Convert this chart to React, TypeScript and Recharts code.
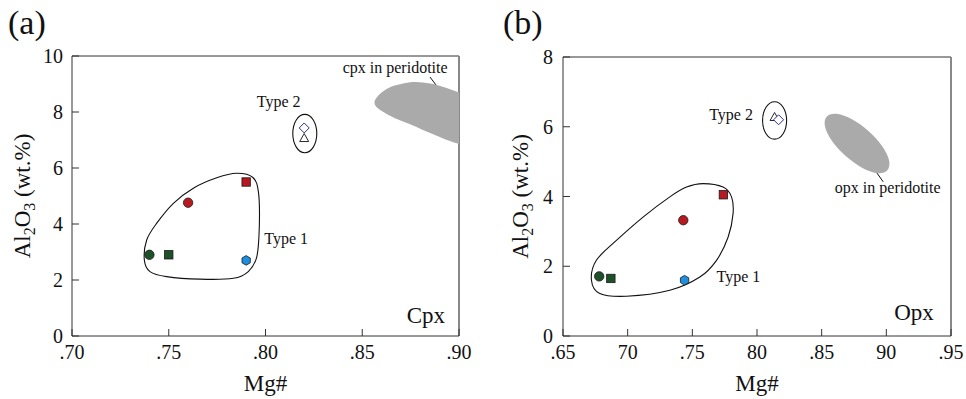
import React from 'react';
import { ScatterChart, Scatter, XAxis, YAxis, ReferenceLine } from 'recharts';

const FONT = '"Liberation Serif", "Times New Roman", Times, serif';

// samples, same order in both panels (triangle before diamond so the diamond sits on top)
const SAMPLES = ['greenCircle', 'greenSquare', 'redCircle', 'redSquare', 'blueHex', 'triangle', 'diamond'];

// (a) Cpx
const CPX_X_TICKS = [0.7, 0.75, 0.8, 0.85, 0.9];
const CPX_X_LABELS = ['.70', '.75', '.80', '.85', '.90'];
const CPX_Y_TICKS = [0, 2, 4, 6, 8, 10];
const CPX_MG = [0.74, 0.75, 0.76, 0.79, 0.79, 0.82, 0.82];
const CPX_AL = [2.9, 2.9, 4.76, 5.5, 2.7, 7.07, 7.43];
const CPX_TYPE1: [number, number][] = [
  [0.7851, 5.81], [0.7935, 5.66], [0.7964, 5.11], [0.7968, 3.9], [0.7955, 2.83], [0.7911, 2.3],
  [0.7834, 2.06], [0.7662, 2.03], [0.7489, 2.12], [0.7403, 2.3], [0.7374, 2.71], [0.7386, 3.43],
  [0.7438, 4.03], [0.7524, 4.74], [0.7627, 5.28], [0.7748, 5.65],
];
const CPX_TYPE2: [number, number][] = [
  [0.8203, 7.915], [0.8247, 7.714], [0.8265, 7.23], [0.8247, 6.746],
  [0.8203, 6.545], [0.8159, 6.746], [0.8141, 7.23], [0.8159, 7.714],
];
const CPX_FIELD: [number, number][] = [
  [0.8563, 8.33], [0.8626, 8.82], [0.8747, 9.06], [0.885, 9.02], [0.8936, 8.86], [0.9016, 8.64],
  [0.9083, 8.29], [0.9083, 7.0], [0.9005, 6.86], [0.8885, 7.15], [0.8747, 7.56], [0.8626, 7.93],
];
const CPX_LEADER: [number, number][] = [[0.885, 9.25], [0.8917, 8.64]];
const CPX_NOTES = [
  { mg: 0.7955, al: 8.19, text: 'Type 2' },
  { mg: 0.7994, al: 3.27, text: 'Type 1' },
  { mg: 0.8399, al: 9.38, text: 'cpx in peridotite' },
];
const CPX_CORNER = [{ mg: 0.873, al: 0.46, text: 'Cpx' }];

// (b) Opx
const OPX_X_TICKS = [0.65, 0.7, 0.75, 0.8, 0.85, 0.9, 0.95];
const OPX_X_LABELS = ['.65', '70', '.75', '80', '.85', '90', '.95'];
const OPX_Y_TICKS = [0, 2, 4, 6, 8];
const OPX_MG = [0.678, 0.687, 0.743, 0.774, 0.744, 0.8136, 0.8167];
const OPX_AL = [1.71, 1.65, 3.32, 4.05, 1.6, 6.28, 6.2];
const OPX_TYPE1: [number, number][] = [
  [0.7583, 4.37], [0.7738, 4.27], [0.7803, 3.99], [0.7815, 3.51], [0.7777, 2.84], [0.7687, 2.17],
  [0.7558, 1.69], [0.7326, 1.31], [0.6991, 1.14], [0.6784, 1.22], [0.672, 1.6], [0.6758, 2.17],
  [0.6913, 2.74], [0.7119, 3.41], [0.7326, 3.99], [0.7455, 4.27],
];
const OPX_TYPE2: [number, number][] = [
  [0.8136, 6.716], [0.8202, 6.559], [0.8229, 6.18], [0.8202, 5.801],
  [0.8136, 5.644], [0.807, 5.801], [0.8043, 6.18], [0.807, 6.559],
];
const OPX_FIELD: [number, number][] = [
  [0.9008, 4.75], [0.8933, 4.67], [0.8815, 4.82], [0.8686, 5.16], [0.858, 5.59], [0.8526, 6.0],
  [0.8538, 6.29], [0.8613, 6.37], [0.8731, 6.22], [0.8861, 5.88], [0.8967, 5.45], [0.9021, 5.04],
];
const OPX_LEADER: [number, number][] = [[0.8886, 4.89], [0.8976, 4.42]];
const OPX_NOTES = [
  { mg: 0.763, al: 6.2, text: 'Type 2' },
  { mg: 0.7687, al: 1.55, text: 'Type 1' },
  { mg: 0.8602, al: 4.1, text: 'opx in peridotite' },
];
const OPX_CORNER = [{ mg: 0.9061, al: 0.45, text: 'Opx' }];

const GREEN = '#1d5128';
const RED = '#b81820';
const BLUE = '#1e8fe0';

const toRows = (pairs: [number, number][]) => pairs.map(([mg, al]) => ({ mg, al }));

// closed catmull-rom through the pixel points the scatter hands us
function closedPath(pts: { x: number; y: number }[]) {
  const n = pts.length;
  let d = `M${pts[0].x},${pts[0].y}`;
  for (let i = 0; i < n; i++) {
    const p0 = pts[(i - 1 + n) % n];
    const p1 = pts[i];
    const p2 = pts[(i + 1) % n];
    const p3 = pts[(i + 2) % n];
    d += `C${p1.x + (p2.x - p0.x) / 6},${p1.y + (p2.y - p0.y) / 6} ${p2.x - (p3.x - p1.x) / 6},${p2.y - (p3.y - p1.y) / 6} ${p2.x},${p2.y}`;
  }
  return d + 'Z';
}

const outline = (stroke: string, fill: string) => (p: any) =>
  <path d={closedPath(p.points)} stroke={stroke} fill={fill} strokeWidth={1.1} />;

const noDot = () => <g />;

function Marker(props: any) {
  const { cx, cy, payload } = props;
  const s = { stroke: '#1a1a1a', strokeWidth: 0.8 };
  switch (payload.sample) {
    case 'greenCircle':
      return <circle cx={cx} cy={cy} r={4.7} fill={GREEN} {...s} />;
    case 'greenSquare':
      return <rect x={cx - 4.2} y={cy - 4.2} width={8.4} height={8.4} fill={GREEN} {...s} />;
    case 'redCircle':
      return <circle cx={cx} cy={cy} r={4.7} fill={RED} {...s} />;
    case 'redSquare':
      return <rect x={cx - 4.2} y={cy - 4.2} width={8.4} height={8.4} fill={RED} {...s} />;
    case 'blueHex': {
      const r = 4.8;
      const pts = [0, 1, 2, 3, 4, 5]
        .map((k) => {
          const a = (Math.PI / 3) * k + Math.PI / 6;
          return `${cx + r * Math.cos(a)},${cy + r * Math.sin(a)}`;
        })
        .join(' ');
      return <polygon points={pts} fill={BLUE} {...s} />;
    }
    case 'triangle':
      return (
        <polygon
          points={`${cx},${cy - 4.5} ${cx + 4.5},${cy + 3.5} ${cx - 4.5},${cy + 3.5}`}
          fill="#fff"
          stroke="#111"
          strokeWidth={0.9}
        />
      );
    default:
      return (
        <polygon
          points={`${cx},${cy - 5} ${cx + 5},${cy} ${cx},${cy + 5} ${cx - 5},${cy}`}
          fill="#fff"
          stroke="#2b2b9e"
          strokeWidth={1}
        />
      );
  }
}

const noteShape = (size: number) => (p: any) =>
  (
    <text x={p.cx} y={p.cy} fontFamily={FONT} fontSize={size} fill="#111">
      {p.payload.text}
    </text>
  );

interface PanelProps {
  width: number;
  margin: { top: number; right: number; bottom: number; left: number };
  xDomain: [number, number];
  xTicks: number[];
  xLabels: string[];
  yTicks: number[];
  yTickMargin: number;
  yLabelX: number;
  mg: number[];
  al: number[];
  type1: [number, number][];
  type2: [number, number][];
  field: [number, number][];
  leader: [number, number][];
  notes: { mg: number; al: number; text: string }[];
  corner: { mg: number; al: number; text: string }[];
}

function Panel(props: PanelProps) {
  const { width, margin, xDomain, xTicks, xLabels, yTicks } = props;
  const points = SAMPLES.map((sample, i) => ({ sample, mg: props.mg[i], al: props.al[i] }));
  const yMax = yTicks[yTicks.length - 1];
  const axisStyle = { fill: '#111', fontSize: 20, fontFamily: FONT };

  return (
    <ScatterChart width={width} height={399} margin={margin}>
      <XAxis
        type="number"
        dataKey="mg"
        domain={xDomain}
        ticks={xTicks}
        interval={0}
        allowDataOverflow
        tickFormatter={(v: number) => xLabels[xTicks.indexOf(v)] ?? ''}
        tick={axisStyle}
        tickSize={-7}
        tickMargin={16}
        height={30}
        stroke="#333"
        label={(lp: any) => {
          const vb = lp.viewBox;
          return (
            <text x={vb.x + vb.width / 2} y={391} textAnchor="middle" fontFamily={FONT} fontSize={23} fill="#111">
              Mg#
            </text>
          );
        }}
      />
      <YAxis
        type="number"
        dataKey="al"
        domain={[0, yMax]}
        ticks={yTicks}
        interval={0}
        tick={axisStyle}
        tickSize={-7}
        tickMargin={props.yTickMargin}
        width={40}
        stroke="#333"
        label={(lp: any) => {
          const vb = lp.viewBox;
          const cy = vb.y + vb.height / 2;
          const x = props.yLabelX;
          return (
            <text
              x={x}
              y={cy}
              transform={`rotate(-90, ${x}, ${cy})`}
              textAnchor="middle"
              fontFamily={FONT}
              fontSize={23}
              fill="#111"
            >
              Al
              <tspan fontSize={16} dy={5}>2</tspan>
              <tspan dy={-5}>O</tspan>
              <tspan fontSize={16} dy={5}>3</tspan>
              <tspan dy={-5}> (wt.%)</tspan>
            </text>
          );
        }}
      />
      <ReferenceLine y={yMax} stroke="#333" strokeWidth={1} />
      <ReferenceLine x={xDomain[1]} stroke="#888" strokeWidth={2} />

      <Scatter
        data={toRows(props.field)}
        shape={noDot}
        line={outline('none', '#aaaaaa')}
        lineType="joint"
        isAnimationActive={false}
      />
      <ReferenceLine
        segment={props.leader.map(([x, y]) => ({ x, y }))}
        stroke="#111"
        strokeWidth={1}
        ifOverflow="visible"
      />
      <Scatter
        data={toRows(props.type1)}
        shape={noDot}
        line={outline('#111', 'none')}
        lineType="joint"
        isAnimationActive={false}
      />
      <Scatter
        data={toRows(props.type2)}
        shape={noDot}
        line={outline('#111', 'none')}
        lineType="joint"
        isAnimationActive={false}
      />
      <Scatter data={points} shape={(p: any) => <Marker {...p} />} isAnimationActive={false} />
      <Scatter data={props.notes} shape={noteShape(16)} isAnimationActive={false} />
      <Scatter data={props.corner} shape={noteShape(23)} isAnimationActive={false} />
    </ScatterChart>
  );
}

const tag = (left: number, text: string) => (
  <div
    style={{
      position: 'absolute',
      left,
      top: 6,
      fontFamily: FONT,
      fontSize: 34,
      lineHeight: '34px',
      color: '#111',
    }}
  >
    {text}
  </div>
);

export default function App() {
  return (
    <div style={{ position: 'absolute', left: 0, top: 0, width: 966, height: 399, background: '#fff', overflow: 'hidden' }}>
      <div style={{ position: 'absolute', left: 0, top: 0 }}>
        <Panel
          width={480}
          margin={{ top: 56, right: 21, bottom: 33, left: 32 }}
          xDomain={[0.7, 0.9]}
          xTicks={CPX_X_TICKS}
          xLabels={CPX_X_LABELS}
          yTicks={CPX_Y_TICKS}
          yTickMargin={16}
          yLabelX={30}
          mg={CPX_MG}
          al={CPX_AL}
          type1={CPX_TYPE1}
          type2={CPX_TYPE2}
          field={CPX_FIELD}
          leader={CPX_LEADER}
          notes={CPX_NOTES}
          corner={CPX_CORNER}
        />
      </div>
      <div style={{ position: 'absolute', left: 480, top: 0 }}>
        <Panel
          width={486}
          margin={{ top: 57, right: 15, bottom: 33, left: 43 }}
          xDomain={[0.65, 0.95]}
          xTicks={OPX_X_TICKS}
          xLabels={OPX_X_LABELS}
          yTicks={OPX_Y_TICKS}
          yTickMargin={17}
          yLabelX={48}
          mg={OPX_MG}
          al={OPX_AL}
          type1={OPX_TYPE1}
          type2={OPX_TYPE2}
          field={OPX_FIELD}
          leader={OPX_LEADER}
          notes={OPX_NOTES}
          corner={OPX_CORNER}
        />
      </div>
      {tag(8, '(a)')}
      {tag(503, '(b)')}
    </div>
  );
}
